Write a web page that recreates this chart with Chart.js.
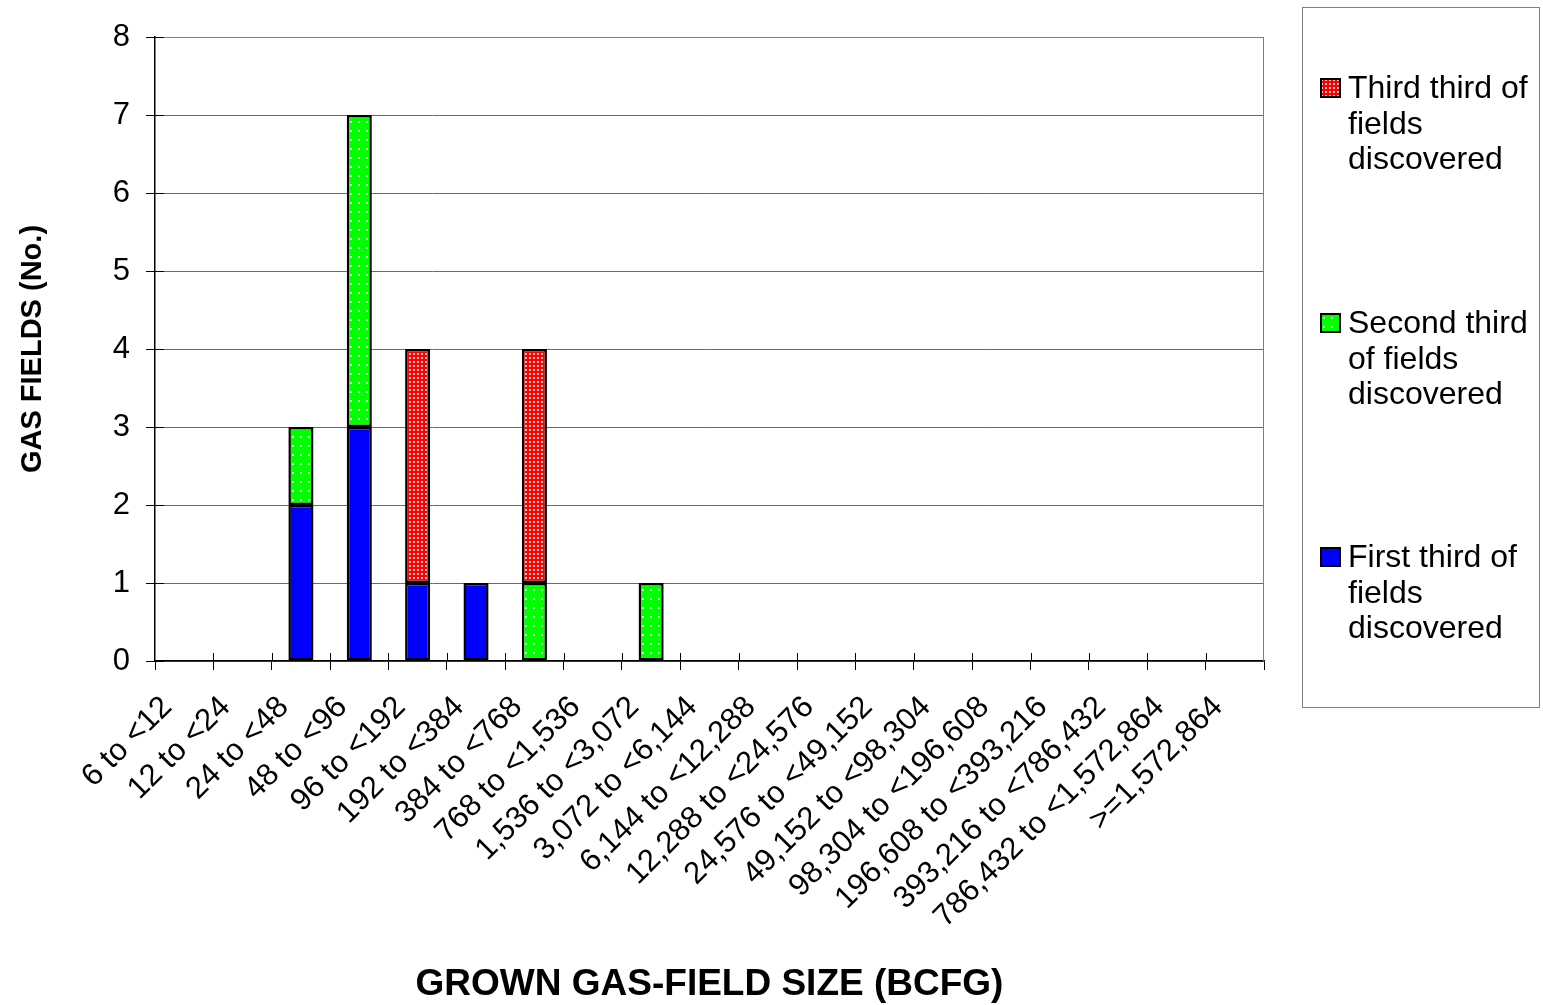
<!DOCTYPE html>
<html>
<head>
<meta charset="utf-8">
<script src="https://cdn.jsdelivr.net/npm/chart.js@4.4.1/dist/chart.umd.min.js"></script>
<style>
  html, body { margin: 0; background: #fff; }
  #wrap { position: relative; width: 1543px; height: 1005px; }
  #chart { position: absolute; left: 0; top: 0; }
  #legend {
    position: absolute; left: 1302px; top: 7px; width: 238px; height: 701px;
    border: 1px solid #808080; box-sizing: border-box;
    font-family: 'Liberation Sans', Arial, sans-serif; font-size: 32px; color: #000;
  }
  .lg-item { position: absolute; left: 45px; width: 190px; line-height: 35.5px; white-space: nowrap; }
  .lg-item canvas { position: absolute; left: -28px; top: 8px; }
</style>
</head>
<body>
<div id="wrap">
  <canvas id="chart" width="1543" height="1005"></canvas>
  <div id="legend"></div>
</div>
<script>
// ── Data ───────────────────────────────────────────────────────────────────────
const SIZE_CLASSES = [
  '6 to <12', '12 to <24', '24 to <48', '48 to <96', '96 to <192', '192 to <384',
  '384 to <768', '768 to <1,536', '1,536 to <3,072', '3,072 to <6,144',
  '6,144 to <12,288', '12,288 to <24,576', '24,576 to <49,152', '49,152 to <98,304',
  '98,304 to <196,608', '196,608 to <393,216', '393,216 to <786,432',
  '786,432 to <1,572,864', '>=1,572,864'
];
const FIRST_THIRD  = [0, 0, 2, 3, 1, 1, 0, 0, 0, 0, 0, 0, 0, 0, 0, 0, 0, 0, 0];
const SECOND_THIRD = [0, 0, 1, 4, 0, 0, 1, 0, 1, 0, 0, 0, 0, 0, 0, 0, 0, 0, 0];
const THIRD_THIRD  = [0, 0, 0, 0, 3, 0, 3, 0, 0, 0, 0, 0, 0, 0, 0, 0, 0, 0, 0];
const Y_TICKS      = [0, 1, 2, 3, 4, 5, 6, 7, 8];

const FONT = "'Liberation Sans', Arial, sans-serif";

// ── Fill patterns (dotted fills like the original) ────────────────────────────
function makeTile(bg, w, h, dots, dotCol, ds) {
  const c = document.createElement('canvas');
  c.width = w; c.height = h;
  const x = c.getContext('2d');
  x.fillStyle = bg; x.fillRect(0, 0, w, h);
  x.fillStyle = dotCol;
  dots.forEach(([a, b]) => x.fillRect(a, b, ds, ds));
  return c;
}
const tmp = document.createElement('canvas').getContext('2d');
const redTile   = makeTile('#ff0000', 4, 4, [[1, 1]], '#ffc8c8', 2);
const greenTile = makeTile('#00ff00', 8, 9, [[3, 4]], '#d8ffd8', 2);
const RED_FILL  = tmp.createPattern(redTile, 'repeat');

// green dots sit in one column down the middle of each bar
function greenFill(ctx) {
  const sx = ctx.chart.scales.x;
  const p = tmp.createPattern(greenTile, 'repeat');
  if (sx) p.setTransform(new DOMMatrix().translate(Math.round(sx.getPixelForValue(ctx.dataIndex)) - 4, 0));
  return p;
}

// frame on top/right plus short inner tick marks like the original
const frame = {
  id: 'frame',
  afterDraw(chart) {
    const { ctx, chartArea: a, scales } = chart;
    ctx.save();
    ctx.strokeStyle = '#808080'; ctx.lineWidth = 1;
    ctx.beginPath();
    ctx.moveTo(a.left, a.top + 0.5); ctx.lineTo(a.right - 0.5, a.top + 0.5); ctx.lineTo(a.right - 0.5, a.bottom);
    ctx.stroke();
    ctx.strokeStyle = '#000';
    ctx.beginPath();
    scales.y.ticks.forEach(t => {
      const y = Math.round(scales.y.getPixelForValue(t.value)) + 0.5;
      ctx.moveTo(a.left, y); ctx.lineTo(a.left + 9, y);
    });
    for (let i = 1; i < SIZE_CLASSES.length; i++) {
      const x = Math.round((scales.x.getPixelForValue(i - 1) + scales.x.getPixelForValue(i)) / 2) + 0.5;
      ctx.moveTo(x, a.bottom); ctx.lineTo(x, a.bottom - 8);
    }
    ctx.stroke();
    ctx.restore();
  }
};

const barOpts = { borderColor: '#000', borderWidth: 2.5, borderSkipped: false, barPercentage: 0.43, categoryPercentage: 1 };

const chart = new Chart(document.getElementById('chart'), {
  type: 'bar',
  data: {
    labels: SIZE_CLASSES,
    datasets: [
      { label: 'First third of fields discovered',  data: FIRST_THIRD,  backgroundColor: '#0000ff', ...barOpts },
      { label: 'Second third of fields discovered', data: SECOND_THIRD, backgroundColor: greenFill, ...barOpts },
      { label: 'Third third of fields discovered',  data: THIRD_THIRD,  backgroundColor: RED_FILL, ...barOpts },
    ]
  },
  options: {
    responsive: false, animation: false,
    layout: { padding: { left: 10, right: 279, top: 37, bottom: 0 } },
    plugins: { legend: { display: false }, tooltip: { enabled: false } },
    scales: {
      x: {
        stacked: true,
        grid: { drawOnChartArea: false, offset: true, color: '#000', tickLength: 9 },
        border: { color: '#000', width: 1.5 },
        ticks: { autoSkip: false, minRotation: 45, maxRotation: 45, color: '#000', font: { family: FONT, size: 31 }, padding: 19, labelOffset: -17 },
        title: { display: true, text: 'GROWN GAS-FIELD SIZE (BCFG)', color: '#000', font: { family: FONT, size: 37, weight: 'bold', lineHeight: 1.1 }, padding: { top: 0, bottom: 0 } },
        afterFit: s => { s.height = 344; }
      },
      y: {
        stacked: true, min: 0, max: 8,
        afterBuildTicks: s => { s.ticks = Y_TICKS.map(v => ({ value: v })); },
        grid: { color: '#6a6a6a', lineWidth: 1, tickLength: 9, drawTicks: true, tickColor: '#000' },
        border: { color: '#000', width: 1.5 },
        ticks: { color: '#000', font: { family: FONT, size: 31 }, padding: 16 },
        title: { display: true, text: 'GAS FIELDS (No.)', color: '#000', font: { family: FONT, size: 29, weight: 'bold' }, padding: { top: 6, bottom: 0 } },
        afterFit: s => { s.width = 145; }
      }
    }
  },
  plugins: [frame]
});

// ── Legend (reverse order, wrapped like the original) ─────────────────────────
const legend = document.getElementById('legend');
const LEGEND_TOPS = [531, 297, 62];
const LEGEND_LINES = [
  'First third of<br>fields<br>discovered',
  'Second third<br>of fields<br>discovered',
  'Third third of<br>fields<br>discovered'
];
chart.data.datasets.forEach((ds, i) => {
  const item = document.createElement('div');
  item.className = 'lg-item';
  item.style.top = LEGEND_TOPS[i] + 'px';
  item.title = ds.label;
  item.innerHTML = LEGEND_LINES[i];
  const sw = document.createElement('canvas');
  sw.width = 21; sw.height = 20;
  const c = sw.getContext('2d');
  c.fillStyle = i === 0 ? '#0000ff' : c.createPattern(i === 1 ? greenTile : redTile, 'repeat');
  c.fillRect(0, 0, 21, 20);
  c.strokeStyle = '#000'; c.lineWidth = 2; c.strokeRect(1, 1, 19, 18);
  item.appendChild(sw);
  legend.appendChild(item);
});
</script>
</body>
</html>
